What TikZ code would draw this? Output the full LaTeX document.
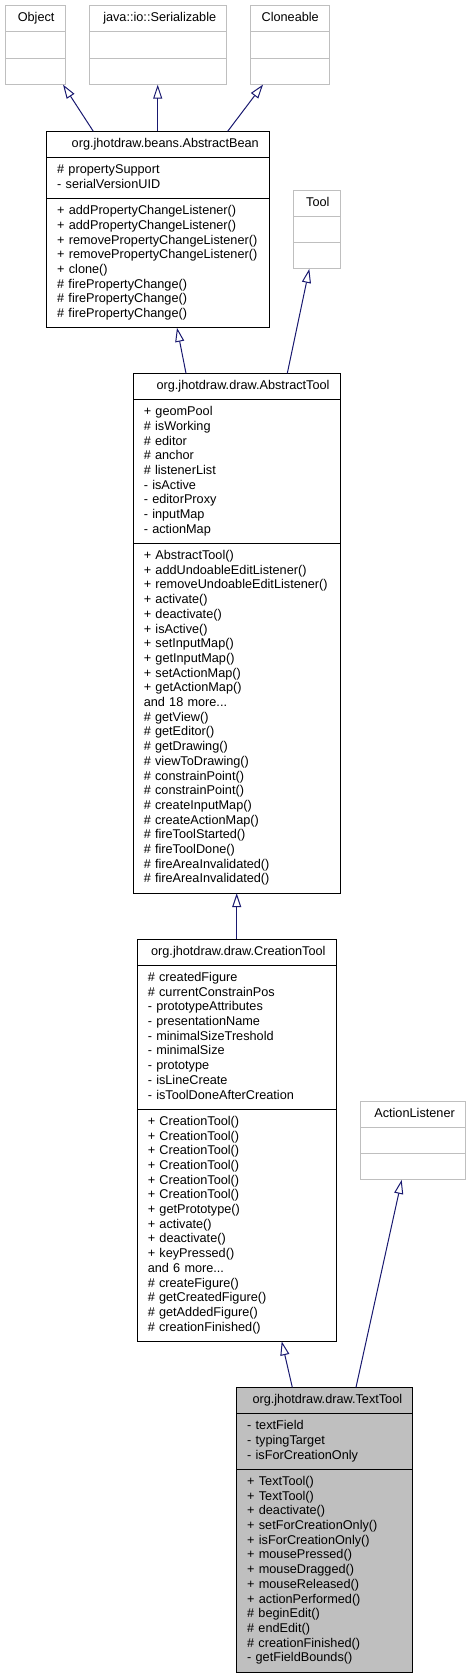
\documentclass[tikz,border=0pt]{standalone}
\usepackage{fontspec}
\setmainfont{Liberation Sans}
\usepackage{tikz}
\usetikzlibrary{arrows.meta, positioning, shapes.multipart}
\definecolor{edgeblue}{RGB}{25,25,112}
\definecolor{extgray}{RGB}{191,191,191}
\definecolor{curfill}{RGB}{191,191,191}
\setlength{\parindent}{0pt}
\newcommand{\clsname}[1]{\hspace*{\fill}\strut#1\hspace*{\fill}}
\newcommand{\mlist}[1]{\strut#1\strut}

\begin{document}
\begin{tikzpicture}[x=1pt, y=-1pt,
    umlclass/.style={rectangle split, rectangle split parts=3, draw, line width=1pt,
      outer sep=0pt, inner xsep=10.5pt, inner ysep=5.3pt, align=left, anchor=north west,
      font=\fontsize{12.7}{14.7}\selectfont},
    extclass/.style={umlclass, draw=extgray},
    inherit/.style={draw=edgeblue, line width=1pt, -{Triangle[open, length=14pt, width=9pt]}}]
  \useasboundingbox (0,0) rectangle (471,1675);
  % external classes
  \node[extclass, text width=39pt] (object) at (5,5.7) {\clsname{Object}\nodepart{two}\strut\nodepart{three}\strut};
  \node[extclass, text width=116.4pt] (serial) at (89.3,5.7) {\clsname{java::io::Serializable}\nodepart{two}\strut\nodepart{three}\strut};
  \node[extclass, text width=57.6pt] (clone) at (250.7,5.7) {\clsname{Cloneable}\nodepart{two}\strut\nodepart{three}\strut};
  \node[extclass, text width=25.7pt] (tool) at (293.3,190) {\clsname{Tool}\nodepart{two}\strut\nodepart{three}\strut};
  \node[extclass, text width=84.3pt] (action) at (360,1101) {\clsname{ActionListener}\nodepart{two}\strut\nodepart{three}\strut};
  % hierarchy
  \node[umlclass, text width=201.6pt] (bean) at (46.7,131.3) {\clsname{org.jhotdraw.beans.AbstractBean}
    \nodepart{two}\mlist{\# propertySupport\\- serialVersionUID}
    \nodepart{three}\mlist{+ addPropertyChangeListener()\\+ addPropertyChangeListener()\\+ removePropertyChangeListener()\\+ removePropertyChangeListener()\\+ clone()\\\# firePropertyChange()\\\# firePropertyChange()\\\# firePropertyChange()}};
  \node[umlclass, text width=185.7pt] (abstool) at (133.3,373.3) {\clsname{org.jhotdraw.draw.AbstractTool}
    \nodepart{two}\mlist{+ geomPool\\\# isWorking\\\# editor\\\# anchor\\\# listenerList\\- isActive\\- editorProxy\\- inputMap\\- actionMap}
    \nodepart{three}\mlist{+ AbstractTool()\\+ addUndoableEditListener()\\+ removeUndoableEditListener()\\+ activate()\\+ deactivate()\\+ isActive()\\+ setInputMap()\\+ getInputMap()\\+ setActionMap()\\+ getActionMap()\\and 18 more...\\\# getView()\\\# getEditor()\\\# getDrawing()\\\# viewToDrawing()\\\# constrainPoint()\\\# constrainPoint()\\\# createInputMap()\\\# createActionMap()\\\# fireToolStarted()\\\# fireToolDone()\\\# fireAreaInvalidated()\\\# fireAreaInvalidated()}};
  \node[umlclass, text width=177.7pt] (creation) at (137.3,939) {\clsname{org.jhotdraw.draw.CreationTool}
    \nodepart{two}\mlist{\# createdFigure\\\# currentConstrainPos\\- prototypeAttributes\\- presentationName\\- minimalSizeTreshold\\- minimalSize\\- prototype\\- isLineCreate\\- isToolDoneAfterCreation}
    \nodepart{three}\mlist{+ CreationTool()\\+ CreationTool()\\+ CreationTool()\\+ CreationTool()\\+ CreationTool()\\+ CreationTool()\\+ getPrototype()\\+ activate()\\+ deactivate()\\+ keyPressed()\\and 6 more...\\\# createFigure()\\\# getCreatedFigure()\\\# getAddedFigure()\\\# creationFinished()}};
  \node[umlclass, fill=curfill, text width=155pt] (texttool) at (236.7,1387.3) {\clsname{org.jhotdraw.draw.TextTool}
    \nodepart{two}\mlist{- textField\\- typingTarget\\- isForCreationOnly}
    \nodepart{three}\mlist{+ TextTool()\\+ TextTool()\\+ deactivate()\\+ setForCreationOnly()\\+ isForCreationOnly()\\+ mousePressed()\\+ mouseDragged()\\+ mouseReleased()\\+ actionPerformed()\\\# beginEdit()\\\# endEdit()\\\# creationFinished()\\- getFieldBounds()}};
  % generalisation arrows
  \foreach \a/\sa/\b/\sb in {bean/46.6/object/58, bean/111/serial/68.4, bean/181/clone/12.3,
      abstool/52.7/bean/130.3, abstool/154/tool/16, creation/99.4/abstool/103.4,
      texttool/55.6/creation/144.4, texttool/119.3/action/41.7} {
    \draw[inherit] ([xshift=\sa pt]\a.north west) -- ([xshift=\sb pt]\b.south west);
  }
\end{tikzpicture}
\end{document}
